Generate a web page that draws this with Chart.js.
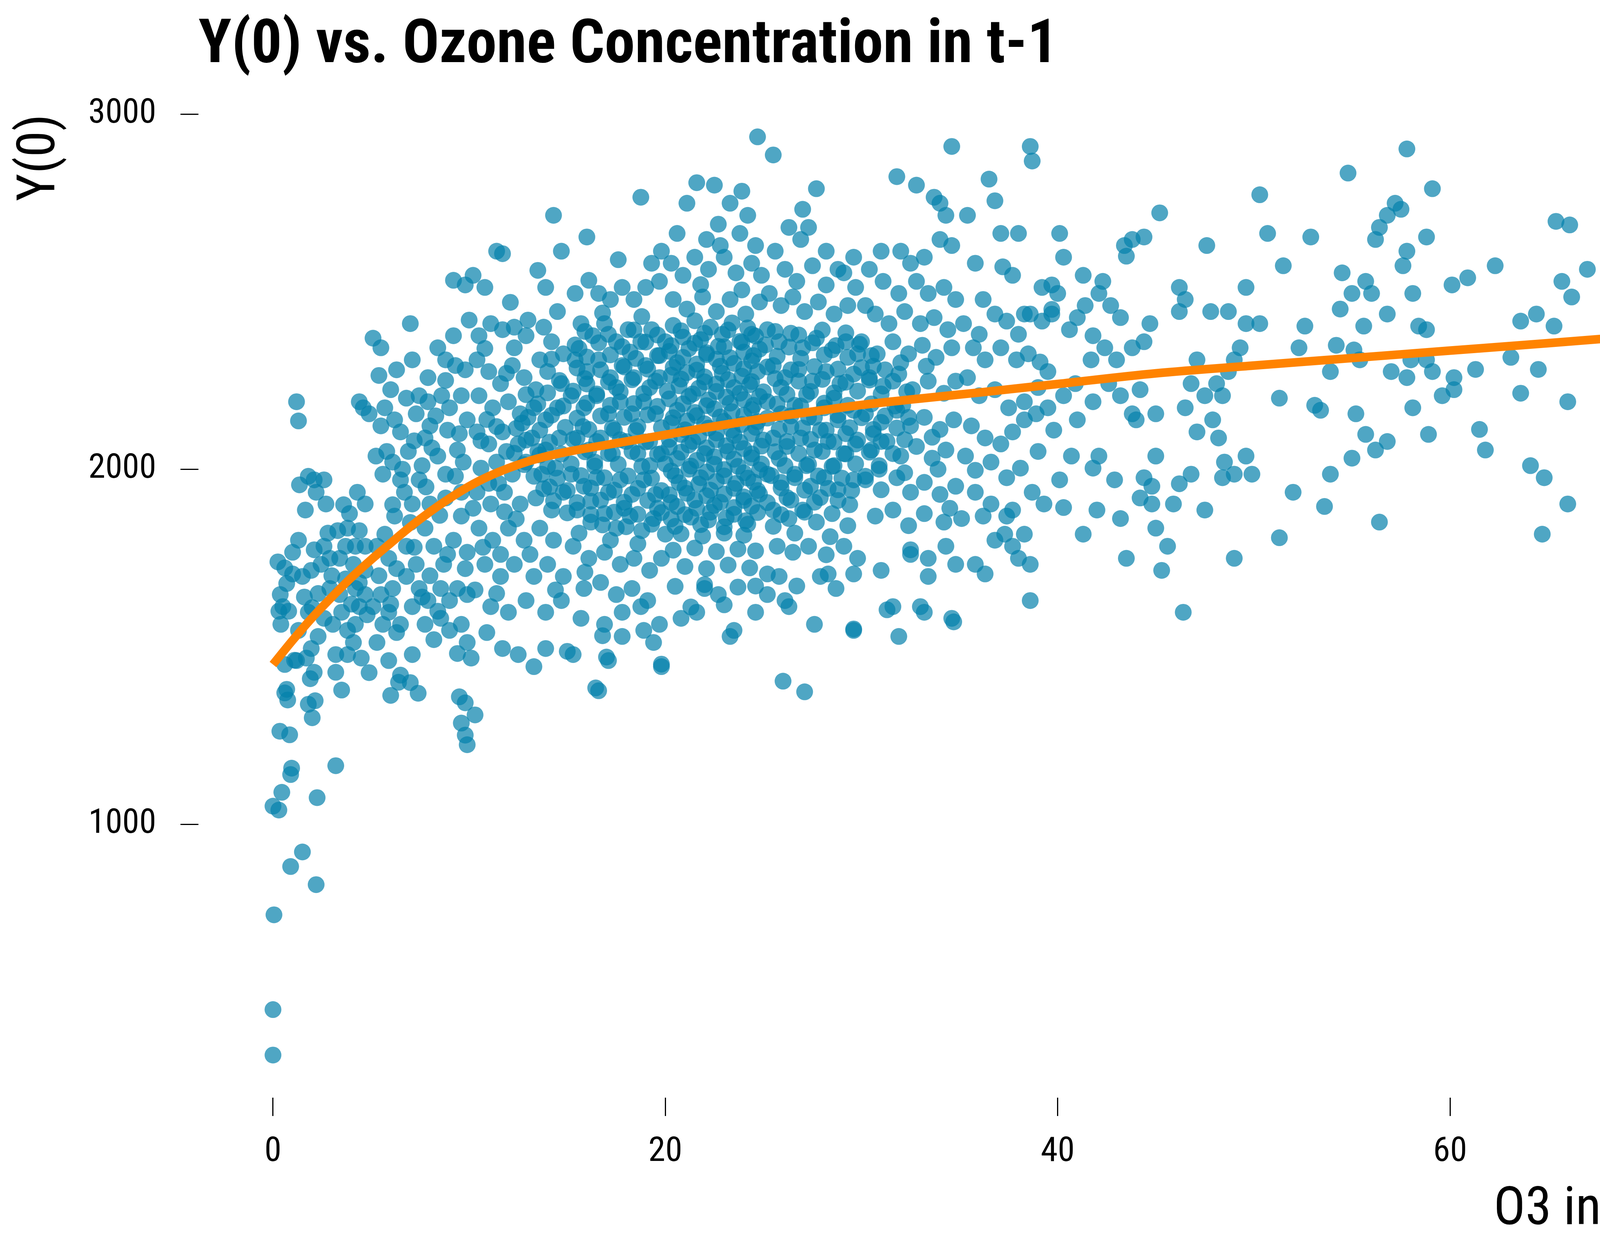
<!DOCTYPE html>
<html>
<head>
<meta charset="utf-8">
<title>Y(0) vs. Ozone Concentration in t-1</title>
<script src="https://cdn.jsdelivr.net/npm/chart.js@4.4.1/dist/chart.umd.min.js"></script>
<style>
    html, body { margin: 0; padding: 0; background: #fff; }
    #wrap { width: 4800px; height: 3200px; }
</style>
</head>
<body>
<div id="wrap"><canvas id="myChart" width="4800" height="3200"></canvas></div>
<script>
// Tick labels
const xTicks = [0, 20, 40, 60, 80];
const yTicks = [1000, 2000, 3000];

// Fitted curve (orange)
const curveO3 = [0, 1, 2, 3, 4, 5, 6, 7, 8, 9, 10, 11, 12, 13, 14, 15, 16, 18, 20, 22, 24, 26, 28, 30, 33, 36, 40, 45, 50, 55, 60, 65, 70, 76.6];
const curveY0 = [1450, 1518, 1582, 1640, 1695, 1745, 1792, 1838, 1880, 1918, 1952, 1980, 2003, 2022, 2037, 2049, 2059, 2078, 2097, 2116, 2134, 2151, 2166, 2181, 2199, 2216, 2240, 2270, 2292, 2313, 2334, 2355, 2377, 2405];

// Observations as [O3 in t-1, Y(0)], grouped by ozone range
const obsLowOutliers = [
    [0.0,350],[0.0,478],[0.05,745],[0.0,1051],[0.3,1040],[0.45,1090],[0.9,881],[1.5,922],[0.9,1140],[0.95,1158],
    [2.2,830],[2.25,1075],[3.2,1165],[0.35,1262],[0.85,1252],[0.6,1370],[0.7,1380],[0.75,1350],[2.0,1300],[1.8,1338],
    [2.15,1348],[1.9,1410],[2.1,1428],[3.5,1378],[3.2,1428],[0.6,1450],[1.1,1462]
];
const obs0to5 = [
    [0.25,1739],[0.37,1647],[0.5,1613],[0.7,1678],[1.0,1766],[1.2,2190],[1.3,2136],[1.35,1956],[1.65,1885],[1.8,1980],
    [2.1,1970],[2.2,1935],[2.6,1970],[2.7,1902],[2.1,1773],[2.6,1783],[2.45,1732],[2.9,1749],[3.3,1827],[3.8,1834],
    [3.9,1875],[4.4,1827],[4.1,1732],[4.7,1715],[4.4,1681],[1.95,1715],[1.5,1698],[1.0,1705],[0.6,1722],[0.4,1563],
    [1.3,1546],[1.8,1597],[2.3,1529],[2.6,1580],[3.05,1563],[3.5,1597],[3.8,1546],[4.2,1563],[4.4,1613],[4.7,1647],
    [3.2,1478],[3.8,1478],[4.1,1512],[1.95,1495],[1.2,1461],[1.7,1468],[4.5,1468],[4.9,1427],[2.9,1664],[3.4,1647],
    [3.7,1691],[4.2,1664],[3.4,1749],[3.7,1783],[4.2,1783],[4.7,1783],[4.3,1935],[4.7,1902],[4.6,2173],[4.4,2190],
    [4.9,2156],[1.6,1640],[2.3,1650],[3.0,1700],[1.3,1800],[0.8,1600],[2.8,1820],[3.6,1900],[4.0,1620],[2.0,1610],
    [0.3,1600],[4.8,1590]
];
const obs5to10 = [
    [5.1,2369],[5.5,2342],[5.4,2264],[5.7,2173],[5.5,2122],[6.0,2224],[6.2,2139],[6.5,2105],[5.25,2037],[5.6,1986],
    [6.1,2020],[6.5,1970],[7.0,2410],[7.1,2308],[7.45,2207],[7.9,2258],[7.3,2156],[7.75,2088],[8.4,2342],[8.8,2308],
    [9.2,2376],[9.3,2292],[8.6,2207],[9.0,2173],[9.6,2207],[9.9,2139],[9.2,2532],[9.8,2519],[8.0,2122],[8.4,2037],
    [8.8,1986],[9.4,2054],[7.45,1970],[7.1,1902],[6.7,1935],[6.2,1868],[5.7,1817],[5.3,1783],[5.9,1749],[6.8,1783],
    [7.3,1732],[7.75,1834],[8.2,1783],[8.7,1732],[9.2,1800],[9.6,1868],[9.9,1766],[8.0,1902],[8.8,1919],[9.6,1935],
    [5.5,1647],[6.1,1664],[6.8,1698],[7.45,1664],[7.9,1630],[8.55,1664],[9.0,1630],[9.4,1664],[9.9,1647],[5.9,1597],
    [6.5,1563],[7.1,1613],[7.75,1563],[8.55,1580],[9.0,1546],[9.6,1563],[9.9,1512],[5.9,1461],[5.3,1512],[7.1,1478],
    [5.6,1563],[6.4,1400],[5.1,1613],[9.4,1481],[10.1,1468],[9.5,1359],[9.8,1342],[9.8,1251],[9.6,1285],[9.9,1224],
    [10.3,1308],[7.0,1399],[6.5,1420],[7.4,1369],[6.0,1363],[6.9,2050],[8.3,2150],[9.5,2100],[7.6,2010],[6.3,2280]
];
const obs5to12Extra = [
    [5.8,2050],[6.6,2000],[7.2,2080],[8.1,2060],[8.9,2110],[9.7,2020],[10.6,2080],[11.4,2120],[6.1,1900],[7.0,1850],
    [7.8,1950],[8.5,1870],[9.3,1980],[10.2,1890],[11.0,1960],[11.8,1880],[5.4,1700],[6.3,1720],[7.2,1780],[8.0,1700],
    [8.9,1760],[9.8,1720],[10.7,1780],[11.6,1760],[6.0,1620],[7.6,1640],[8.4,1600],[10.3,1660],[11.4,1650],[6.8,2200],
    [7.9,2190],[8.8,2250],[9.8,2280],[10.8,2340],[11.9,2270],[10.0,2420],[12.3,2400],[6.3,1540],[8.2,1520],[10.9,1540]
];
const obs10to15 = [
    [10.2,2546],[10.8,2512],[11.4,2614],[11.7,2607],[10.5,2376],[11.1,2410],[11.7,2393],[12.3,2342],[12.9,2376],[13.6,2308],
    [14.2,2359],[14.8,2325],[14.5,2444],[14.3,2715],[14.7,2614],[13.9,2512],[10.4,2308],[11.0,2275],[11.6,2241],[12.2,2292],
    [12.8,2258],[13.4,2224],[14.0,2275],[14.7,2241],[10.5,2207],[11.2,2173],[12.0,2190],[12.6,2156],[13.3,2173],[13.9,2139],
    [14.5,2173],[10.4,2105],[11.0,2071],[11.7,2105],[12.5,2071],[13.2,2088],[13.9,2054],[14.6,2088],[10.6,2003],[11.4,2020],
    [12.2,1986],[12.9,2020],[13.7,1986],[14.4,2003],[10.4,1935],[11.1,1902],[11.8,1935],[12.6,1902],[13.4,1919],[14.2,1885],
    [14.8,1935],[10.5,1834],[11.2,1800],[12.0,1834],[12.8,1800],[13.6,1834],[14.3,1800],[10.8,1732],[11.6,1698],[12.3,1732],
    [13.3,1698],[14.0,1732],[14.8,1698],[11.1,1613],[12.0,1597],[12.9,1630],[13.9,1597],[14.7,1630],[11.7,1495],[12.5,1478],
    [13.3,1444],[13.9,1495],[13.0,2420],[12.1,2470],[13.5,2560],[12.7,2130],[13.6,2040],[14.1,1950],[12.4,1860],[13.1,1760],
    [14.4,1660],[11.5,1960],[12.9,2210],[14.2,2310],[10.9,2140],[11.9,2050],[13.8,2400]
];
const obs15to20 = [
    [16.0,2654],[15.4,2495],[16.1,2532],[16.6,2495],[17.2,2478],[17.8,2512],[18.4,2478],[19.0,2512],[19.7,2529],[18.75,2766],
    [17.6,2590],[19.3,2580],[19.8,2614],[15.7,2410],[16.3,2376],[16.9,2410],[17.5,2359],[18.1,2393],[18.75,2359],[19.3,2393],
    [20.0,2359],[15.4,2308],[16.0,2275],[16.6,2308],[17.2,2258],[17.8,2292],[18.4,2258],[19.0,2292],[19.7,2258],[15.2,2207],
    [15.85,2173],[16.5,2207],[17.1,2156],[17.7,2190],[18.3,2156],[18.9,2190],[19.5,2156],[15.5,2088],[16.1,2054],[16.7,2088],
    [17.3,2044],[18.0,2078],[18.6,2044],[19.2,2078],[19.8,2044],[15.2,1986],[15.85,1952],[16.5,1976],[17.1,1935],[17.7,1970],
    [18.3,1929],[18.9,1970],[19.5,1929],[15.5,1885],[16.2,1851],[16.9,1875],[17.5,1834],[18.2,1868],[18.8,1827],[19.4,1861],
    [20.0,1817],[15.3,1783],[16.1,1749],[16.9,1766],[17.7,1732],[18.4,1749],[19.2,1715],[19.8,1749],[15.85,1664],[16.7,1681],
    [17.5,1647],[18.3,1664],[19.1,1630],[15.7,1580],[16.9,1563],[17.8,1597],[18.75,1613],[19.4,1512],[19.7,1563],[19.8,1444],
    [15.3,1478],[16.6,1376],[17.1,1461],[17.8,1529],[18.9,1546],[16.45,1384],[17.0,1471],[16.8,1531],[19.8,1451],[15.0,1487],
    [15.8,2120],[16.4,2020],[17.4,2110],[18.6,2120],[19.2,2010],[16.2,1910],[17.9,1890],[19.6,1890],[15.6,1820],[17.2,1800],
    [18.6,1790],[16.0,2240],[17.5,2230],[19.2,2230],[15.6,2340],[18.2,2330],[19.6,2320],[16.8,2440],[18.8,2430],[15.9,1710]
];
const obs20to25 = [
    [20.4,2405],[21.5,2418],[22.3,2400],[23.4,2412],[24.2,2398],[20.9,2372],[21.8,2365],[22.9,2380],[23.8,2360],[24.6,2375],
    [20.2,2332],[21.2,2340],[22.1,2328],[23.0,2345],[24.0,2330],[24.8,2338],[20.6,2300],[21.6,2296],[22.6,2310],[23.5,2298],
    [24.4,2305],[20.3,2265],[21.1,2272],[22.0,2260],[22.9,2270],[23.9,2262],[24.7,2275],[20.7,2235],[21.7,2228],[22.6,2240],
    [23.5,2230],[24.3,2238],[20.2,2198],[21.2,2205],[22.2,2195],[23.1,2203],[24.0,2196],[24.8,2205],[20.6,2166],[21.5,2160],
    [22.5,2170],[23.4,2162],[24.4,2168],[20.3,2130],[21.1,2136],[22.0,2128],[23.0,2135],[23.9,2126],[24.7,2134],[20.8,2098],
    [21.7,2092],[22.6,2102],[23.5,2095],[24.4,2100],[20.2,2062],[21.2,2068],[22.1,2060],[23.1,2066],[24.0,2058],[24.9,2065],
    [20.6,2030],[21.6,2025],[22.5,2035],[23.5,2028],[24.4,2032],[20.3,1995],[21.2,2000],[22.1,1992],[23.0,1999],[24.0,1990],
    [24.8,1998],[20.7,1962],[21.7,1958],[22.6,1966],[23.6,1960],[24.5,1964],[20.2,1928],[21.1,1932],[22.1,1925],[23.0,1930],
    [24.0,1922],[24.8,1930],[20.6,1895],[21.6,1890],[22.5,1898],[23.5,1892],[24.4,1896],[20.3,1860],[21.3,1865],[22.2,1857],
    [23.1,1863],[24.1,1855],[20.8,1818],[21.9,1812],[23.0,1820],[24.0,1814],[20.4,1772],[21.5,1778],[22.6,1768],[23.7,1775],
    [24.6,1770],[21.0,1726],[22.1,1720],[23.2,1730],[24.3,1722],[20.5,1670],[22.0,1675],[23.7,1668],[21.3,1612],[23.0,1618],
    [20.4,2478],[21.1,2451],[21.9,2485],[22.6,2444],[23.3,2478],[24.1,2437],[24.8,2471],[20.3,2580],[20.9,2546],[21.5,2597],
    [22.2,2563],[23.0,2597],[23.6,2553],[24.4,2580],[24.9,2546],[20.6,2664],[21.1,2749],[22.1,2647],[22.8,2630],[23.8,2664],
    [24.6,2630],[23.3,2749],[24.2,2715],[21.6,2807],[22.5,2800],[23.9,2783],[24.7,2936],[20.8,1580],[21.6,1597],[22.0,1664],
    [22.7,1647],[23.3,1529],[23.5,1546],[24.6,1597],[24.6,1671],[21.8,2520],[23.9,2505],[22.7,2690]
];
const obs25to30 = [
    [25.5,2885],[26.3,2681],[26.9,2647],[27.3,2681],[27.7,2790],[27.0,2732],[28.2,2614],[29.6,2597],[28.8,2563],[25.6,2614],
    [26.1,2563],[26.7,2529],[27.5,2573],[28.2,2519],[29.1,2553],[29.7,2512],[25.3,2495],[25.9,2461],[26.5,2485],[27.1,2444],
    [27.8,2471],[28.6,2437],[29.3,2461],[25.2,2393],[25.8,2359],[26.4,2383],[27.0,2342],[27.7,2369],[28.5,2336],[29.2,2359],
    [29.8,2325],[25.5,2292],[26.1,2258],[26.8,2281],[27.5,2248],[28.2,2275],[28.9,2241],[29.6,2268],[25.2,2190],[25.9,2156],
    [26.6,2180],[27.3,2146],[28.1,2173],[28.8,2139],[29.6,2166],[25.5,2088],[26.2,2064],[26.9,2088],[27.6,2054],[28.3,2078],
    [29.1,2044],[29.7,2071],[25.2,1986],[25.9,1963],[26.6,1986],[27.4,1952],[28.1,1976],[28.8,1942],[29.6,1970],[25.5,1885],
    [26.3,1861],[27.0,1885],[27.7,1851],[28.5,1875],[29.3,1841],[25.7,1783],[26.5,1766],[27.3,1783],[28.2,1759],[29.1,1783],
    [29.8,1749],[25.8,1698],[26.7,1671],[27.9,1698],[28.7,1664],[29.6,1705],[26.3,1613],[27.6,1563],[29.6,1546],[25.2,1647],
    [26.0,1403],[27.1,1373],[26.1,1630],[28.3,1705],[25.2,1705],[25.9,2230],[27.2,2210],[28.6,2200],[26.4,2120],[27.9,2110],
    [29.2,2100],[25.8,2030],[27.2,2010],[28.6,2010],[26.2,1920],[27.9,1920],[29.4,1900],[26.6,1820],[28.4,1810]
];
const obs30to35 = [
    [31.8,2824],[32.8,2800],[33.7,2766],[34.0,2749],[34.3,2715],[31.0,2614],[32.0,2614],[32.5,2580],[33.2,2597],[34.0,2647],
    [34.6,2630],[30.4,2563],[31.1,2529],[31.9,2495],[32.8,2529],[33.4,2495],[34.2,2512],[34.8,2478],[30.2,2461],[30.7,2437],
    [31.4,2410],[32.2,2444],[33.0,2410],[33.7,2427],[34.4,2393],[30.0,2359],[30.8,2325],[31.6,2359],[32.4,2325],[33.1,2349],
    [33.8,2315],[34.6,2342],[30.4,2258],[31.1,2234],[31.9,2268],[32.6,2224],[33.4,2248],[34.2,2214],[34.8,2248],[30.2,2156],
    [31.0,2132],[31.8,2166],[32.5,2122],[33.2,2146],[34.0,2112],[34.7,2139],[30.5,2054],[31.3,2078],[32.0,2037],[32.8,2064],
    [33.6,2031],[34.3,2054],[30.2,1970],[31.0,1942],[31.8,1976],[32.5,1935],[33.2,1963],[34.0,1929],[34.8,1952],[30.7,1868],
    [31.6,1885],[32.4,1841],[33.2,1875],[34.2,1851],[32.5,1773],[33.4,1749],[34.3,1783],[34.8,1732],[33.4,1698],[33.2,1597],
    [31.6,1613],[31.9,1529],[33.0,1613],[34.6,1580],[31.0,1715],[29.6,1550],[31.3,1604],[32.5,1760],[34.7,1570],[30.9,2000],
    [32.2,1990],[33.9,2000],[30.6,2100],[32.1,2180],[33.6,2090],[30.6,2290],[32.0,2300],[33.3,2290],[34.5,1890]
];
// dense centre of the cloud
const obsCore = [
    [15.9,2388],[17.1,2380],[18.4,2392],[19.6,2378],[20.8,2390],[22.0,2383],[23.2,2392],[24.4,2380],[25.6,2388],[26.8,2378],[28.0,2392],[29.2,2384],
    [15.4,2350],[16.6,2356],[17.8,2345],[19.0,2358],[20.3,2348],[21.5,2355],[22.7,2346],[23.9,2357],[25.1,2350],[26.3,2344],[27.5,2356],[28.7,2348],[29.9,2352],
    [16.0,2316],[17.2,2322],[18.5,2312],[19.7,2320],[20.9,2315],[22.1,2323],[23.3,2314],[24.5,2320],[25.7,2318],[26.9,2312],[28.1,2322],[29.3,2315],[30.5,2320],
    [15.5,2285],[16.7,2280],[17.9,2288],[19.1,2282],[20.4,2287],[21.6,2279],[22.8,2290],[24.0,2283],[25.2,2288],[26.4,2280],[27.6,2289],[28.8,2282],[30.0,2286],[31.2,2280],
    [14.6,2250],[15.9,2255],[17.1,2246],[18.3,2252],[19.5,2248],[20.8,2254],[22.0,2246],[23.2,2252],[24.4,2247],[25.6,2255],[26.8,2248],[28.0,2253],[29.2,2245],[30.4,2251],[31.6,2248],
    [14.0,2215],[15.3,2220],[16.5,2212],[17.7,2218],[18.9,2213],[20.1,2220],[21.4,2212],[22.6,2219],[23.8,2214],[25.0,2218],[26.2,2211],[27.4,2219],[28.6,2215],[29.8,2220],[31.0,2212],[32.3,2218],
    [13.5,2184],[14.8,2178],[16.0,2186],[17.2,2180],[18.4,2185],[19.6,2177],[20.9,2184],[22.1,2179],[23.3,2186],[24.5,2180],[25.7,2184],[26.9,2178],[28.1,2186],[29.3,2180],[30.5,2184],[31.7,2178],
    [13.0,2146],[14.2,2152],[15.5,2144],[16.7,2150],[17.9,2146],[19.1,2153],[20.4,2145],[21.6,2151],[22.8,2147],[24.0,2152],[25.2,2144],[26.4,2150],[27.6,2146],[28.8,2152],[30.0,2145],[31.2,2150],[32.4,2146],
    [12.4,2115],[13.6,2110],[14.9,2118],[16.1,2112],[17.3,2116],[18.5,2109],[19.8,2117],[21.0,2111],[22.2,2116],[23.4,2110],[24.6,2118],[25.8,2112],[27.0,2116],[28.2,2110],[29.4,2117],[30.6,2112],[31.8,2116],
    [12.9,2082],[14.1,2076],[15.3,2084],[16.5,2078],[17.7,2083],[19.0,2077],[20.2,2084],[21.4,2078],[22.6,2083],[23.8,2076],[25.0,2082],[26.2,2078],[27.4,2084],[28.6,2077],[29.8,2082],[31.0,2078],[32.2,2083],
    [12.3,2045],[13.5,2050],[14.7,2043],[15.9,2049],[17.1,2044],[18.3,2050],[19.6,2042],[20.8,2048],[22.0,2044],[23.2,2050],[24.4,2043],[25.6,2049],[26.8,2044],[28.0,2050],[29.2,2043],[30.4,2048],[31.6,2044],
    [12.8,2013],[14.0,2008],[15.2,2015],[16.4,2009],[17.6,2014],[18.8,2008],[20.0,2015],[21.3,2009],[22.5,2014],[23.7,2008],[24.9,2015],[26.1,2010],[27.3,2014],[28.5,2008],[29.7,2015],[30.9,2010],
    [13.3,1980],[14.5,1975],[15.7,1982],[16.9,1976],[18.1,1981],[19.3,1975],[20.5,1982],[21.8,1976],[23.0,1981],[24.2,1975],[25.4,1982],[26.6,1976],[27.8,1981],[29.0,1975],[30.2,1980],
    [13.8,1945],[15.0,1940],[16.2,1947],[17.4,1941],[18.6,1946],[19.8,1940],[21.0,1947],[22.3,1941],[23.5,1946],[24.7,1940],[25.9,1947],[27.1,1941],[28.3,1946],[29.5,1940],
    [14.3,1911],[15.5,1906],[16.7,1913],[17.9,1907],[19.1,1912],[20.3,1906],[21.5,1913],[22.8,1907],[24.0,1912],[25.2,1906],[26.4,1913],[27.6,1907],[28.8,1912],
    [15.0,1877],[16.2,1872],[17.4,1879],[18.6,1873],[19.8,1878],[21.0,1872],[22.3,1879],[23.5,1873],[24.7,1878],[25.9,1872],[27.1,1879],
    [16.8,1843],[18.0,1838],[19.3,1845],[20.5,1839],[21.8,1844],[23.0,1838],[24.2,1845],[25.5,1839]
];
const obs35to40 = [
    [34.6,2909],[35.4,2715],[36.5,2817],[36.8,2756],[38.6,2909],[38.7,2868],[37.1,2664],[38.0,2664],[37.7,2546],[37.2,2570],
    [35.8,2580],[36.2,2478],[36.8,2437],[37.4,2417],[38.3,2437],[38.6,2437],[39.2,2417],[39.7,2437],[39.2,2512],[39.7,2519],
    [35.2,2410],[35.7,2342],[36.3,2308],[37.1,2342],[37.9,2308],[38.5,2325],[39.1,2302],[39.5,2275],[35.4,2258],[36.0,2207],
    [36.8,2224],[37.5,2173],[38.3,2190],[38.9,2156],[39.5,2173],[35.6,2122],[36.3,2088],[37.1,2071],[37.7,2105],[38.3,2139],
    [35.3,2037],[35.8,1997],[36.6,2020],[37.4,1976],[38.1,2003],[38.7,1935],[35.8,1935],[36.6,1902],[37.4,1868],[36.8,1800],
    [37.7,1783],[38.0,1749],[38.3,1817],[35.8,1732],[36.3,1705],[38.6,1732],[38.6,1630],[40.1,1970],[39.3,1902],[36.2,1868],
    [37.3,1817],[37.7,1885],[35.1,1861],[36.0,2380],[38.0,2380],[39.0,2230],[39.8,2110],[39.0,2050]
];
const obs40to50 = [
    [40.1,2664],[40.3,2597],[40.0,2495],[39.7,2450],[40.6,2393],[41.0,2427],[41.4,2461],[41.8,2376],[42.1,2495],[42.3,2529],
    [42.7,2461],[43.2,2427],[43.4,2630],[43.5,2600],[43.8,2647],[44.4,2654],[45.2,2722],[41.3,2546],[41.7,2308],[42.4,2342],
    [43.0,2308],[43.8,2342],[44.4,2359],[44.7,2410],[42.6,2241],[43.2,2207],[43.8,2156],[44.0,2139],[44.2,2224],[45.0,2156],
    [40.3,2207],[40.9,2241],[41.8,2190],[41.0,2139],[40.7,2037],[41.8,2003],[42.1,2037],[40.3,1892],[41.3,1817],[42.0,1885],
    [42.9,1970],[43.2,1861],[44.2,1919],[43.5,1749],[44.8,1902],[45.0,1834],[44.8,1952],[44.4,1976],[45.0,2037],[45.3,1715],
    [45.6,1783],[45.9,1902],[46.2,1959],[46.4,1597],[46.2,2444],[46.2,2512],[46.5,2478],[47.6,2630],[47.1,2308],[46.8,2241],
    [47.5,2207],[47.9,2139],[48.2,2088],[47.1,2105],[46.5,2173],[48.4,2207],[48.1,2241],[48.7,2275],[49.0,2308],[49.3,2342],
    [49.6,2410],[49.6,2512],[48.7,2444],[47.8,2444],[48.5,2020],[49.0,1986],[49.6,2037],[49.9,1986],[49.0,1749],[47.5,1885],
    [48.4,1976],[46.8,1986]
];
const obs50to80 = [
    [50.3,2410],[50.3,2773],[50.7,2664],[51.5,2573],[51.3,2200],[52.0,1935],[51.3,1807],[52.3,2342],[52.6,2403],[52.9,2654],
    [53.1,2180],[53.4,2166],[53.6,1895],[53.9,2275],[54.2,2349],[53.9,1986],[54.4,2451],[54.5,2553],[54.8,2834],[55.0,2031],
    [55.2,2156],[55.4,2308],[55.1,2336],[55.0,2495],[55.6,2403],[55.7,2529],[56.0,2495],[56.2,2647],[56.4,2681],[56.8,2715],
    [57.2,2749],[57.5,2732],[57.8,2902],[57.8,2614],[57.6,2573],[58.1,2495],[58.4,2403],[58.0,2308],[57.8,2258],[57.0,2275],
    [56.8,2078],[56.4,1851],[55.7,2098],[56.2,2054],[56.8,2437],[58.1,2173],[58.9,2098],[59.1,2790],[58.8,2308],[59.1,2275],
    [58.8,2654],[58.8,2393],[59.6,2207],[60.1,2519],[60.2,2258],[60.2,2224],[60.9,2539],[61.3,2281],[61.5,2112],[61.8,2054],
    [62.3,2573],[63.1,2315],[63.6,2417],[63.6,2214],[64.1,2010],[64.4,2437],[64.5,2281],[64.7,1817],[64.8,1976],[65.3,2403],
    [65.4,2698],[66.1,2688],[65.7,2529],[66.0,1902],[66.2,2485],[66.0,2190],[67.0,2563],[68.6,2349],[69.4,2647],[69.4,2234],
    [70.0,2325],[70.8,2281],[73.3,2190],[73.8,2573],[76.2,2275],[76.7,2495]
];

document.addEventListener('DOMContentLoaded', function () {
    const fontFamily = "'Roboto Condensed', 'Liberation Sans Narrow', 'DejaVu Sans Condensed', Roboto, sans-serif";
    Chart.defaults.font.family = fontFamily;
    Chart.defaults.color = '#000';

    const observations = [].concat(obsLowOutliers, obs0to5, obs5to10, obs5to12Extra, obs10to15, obs15to20,
        obs20to25, obs25to30, obs30to35, obsCore, obs35to40, obs40to50, obs50to80)
        .map(p => ({ x: p[0], y: p[1] }));
    const curve = curveO3.map((x, i) => ({ x: x, y: curveY0[i] }));

    const ctx = document.getElementById('myChart').getContext('2d');
    new Chart(ctx, {
        type: 'scatter',
        data: {
            datasets: [
                {
                    label: 'Fit',
                    data: curve,
                    showLine: true,
                    borderColor: '#ff8300',
                    borderWidth: 22,
                    pointRadius: 0,
                    pointHoverRadius: 0,
                    tension: 0.4,
                    cubicInterpolationMode: 'monotone',
                    borderCapStyle: 'butt'
                },
                {
                    label: 'Y(0)',
                    data: observations,
                    backgroundColor: 'rgba(4, 128, 171, 0.7)',
                    borderWidth: 0,
                    pointRadius: 21.5,
                    pointHoverRadius: 21.5
                }
            ]
        },
        options: {
            responsive: false,
            animation: false,
            devicePixelRatio: 1,
            layout: { padding: { left: 0, right: 68, top: 0, bottom: 0 } },
            plugins: {
                legend: { display: false },
                tooltip: { enabled: false },
                title: {
                    display: true,
                    text: 'Y(0) vs. Ozone Concentration in t-1',
                    align: 'start',
                    fullSize: false,
                    color: '#000',
                    font: { size: 156, weight: 'bold' },
                    padding: { top: 26, bottom: 79 }
                }
            },
            scales: {
                x: {
                    type: 'linear',
                    min: -3.8,
                    max: 80,
                    afterBuildTicks: s => { s.ticks = xTicks.map(v => ({ value: v })); },
                    afterFit: s => { s.height = 390; },
                    border: { display: false },
                    grid: { drawOnChartArea: false, drawTicks: true, tickLength: 47, tickWidth: 3, tickColor: '#000' },
                    ticks: { color: '#000', font: { size: 88 }, padding: 40, maxRotation: 0, callback: v => String(v) },
                    title: {
                        display: true,
                        text: 'O3 in t-1 (µg/m³)',
                        align: 'end',
                        color: '#000',
                        font: { size: 135 },
                        padding: { top: 0, bottom: 19 }
                    }
                },
                y: {
                    type: 'linear',
                    min: 230,
                    max: 3000,
                    afterBuildTicks: s => { s.ticks = yTicks.map(v => ({ value: v })); },
                    afterFit: s => { s.width = 508; },
                    border: { display: false },
                    grid: { drawOnChartArea: false, drawTicks: true, tickLength: 46, tickWidth: 3, tickColor: '#000' },
                    ticks: { color: '#000', font: { size: 88 }, padding: 62, callback: v => String(v) },
                    title: {
                        display: true,
                        text: 'Y(0)',
                        align: 'end',
                        color: '#000',
                        font: { size: 135 },
                        padding: { top: 24, bottom: 0 }
                    }
                }
            }
        }
    });
});
</script>
</body>
</html>
